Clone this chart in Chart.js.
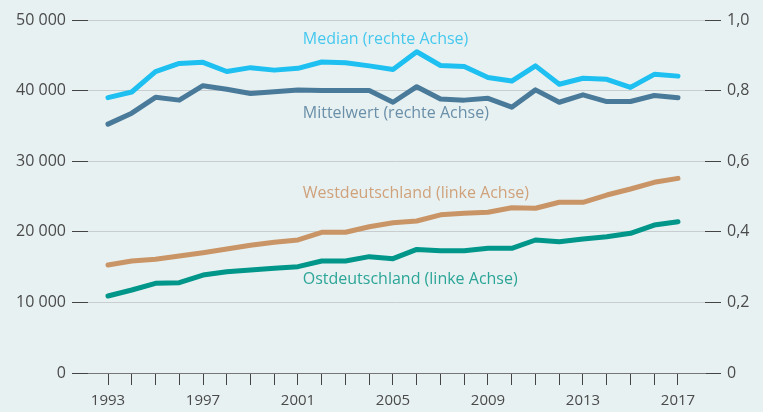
<!DOCTYPE html>
<html>
<head>
<meta charset="utf-8">
<script src="https://cdn.jsdelivr.net/npm/chart.js@4"></script>
<style>
  html, body { margin: 0; padding: 0; background: #e8f1f2; }
  #wrap { width: 763px; height: 412px; }
</style>
</head>
<body>
<div id="wrap"><canvas id="chart" width="763" height="412"></canvas></div>
<script>
const years = [1993,1994,1995,1996,1997,1998,1999,2000,2001,2002,2003,2004,2005,
  2006,2007,2008,2009,2010,2011,2012,2013,2014,2015,2016,2017];

// rechte Achse
const median = [0.78,0.796,0.854,0.877,0.88,0.854,0.865,0.858,0.863,0.881,0.879,0.87,0.86,
  0.91,0.871,0.868,0.837,0.827,0.87,0.818,0.835,0.832,0.809,0.846,0.841];
const mittelwert = [0.705,0.736,0.781,0.773,0.814,0.804,0.792,0.797,0.802,0.8,0.8,0.8,0.767,
  0.811,0.776,0.773,0.778,0.753,0.802,0.767,0.788,0.769,0.769,0.786,0.78];

// linke Achse
const west = [15300,15860,16100,16570,17040,17560,18090,18510,18840,19930,19930,20720,21290,
  21530,22400,22620,22760,23410,23330,24180,24180,25210,26060,27010,27570];
const ost = [10900,11760,12700,12790,13880,14350,14590,14830,15060,15860,15860,16480,16190,
  17500,17320,17320,17660,17660,18840,18600,18980,19310,19790,20960,21430];

const leftTicks = [0,10000,20000,30000,40000,50000];
const rightTicks = [0,0.2,0.4,0.6,0.8,1.0];

const seriesLabels = [
  { text: "Median (rechte Achse)", color: "#45c8ee", axis: "yR", value: 0.946 },
  { text: "Mittelwert (rechte Achse)", color: "#6a8fa8", axis: "yR", value: 0.734 },
  { text: "Westdeutschland (linke Achse)", color: "#cfa27c", axis: "yL", value: 25500 },
  { text: "Ostdeutschland (linke Achse)", color: "#2ba597", axis: "yL", value: 13300 }
];
const labelYear = 2001.2;

const toPoints = arr => arr.map((v, i) => ({ x: years[i], y: v }));
const fmtLeft = v => String(v).replace(/\B(?=(\d{3})+(?!\d))/g, " ");
const fmtRight = v => v === 0 ? "0" : v.toFixed(1).replace(".", ",");

const yFont = { family: "'Open Sans', sans-serif", size: 16 };
const xFont = { family: "'Open Sans', sans-serif", size: 15 };

const bgPlugin = {
  id: "bg",
  beforeDraw(chart) {
    const ctx = chart.ctx;
    ctx.save();
    ctx.fillStyle = "#e8f1f2";
    ctx.fillRect(0, 0, chart.width, chart.height);
    ctx.restore();
  }
};

const labelPlugin = {
  id: "seriesLabels",
  afterDatasetsDraw(chart) {
    const ctx = chart.ctx;
    const x = chart.scales.x.getPixelForValue(labelYear);
    ctx.save();
    ctx.font = "16px 'Open Sans', sans-serif";
    ctx.textAlign = "left";
    ctx.textBaseline = "middle";
    seriesLabels.forEach(l => {
      ctx.fillStyle = l.color;
      ctx.fillText(l.text, x, chart.scales[l.axis].getPixelForValue(l.value));
    });
    ctx.restore();
  }
};

const line = (data, color, axis) => ({
  data: toPoints(data),
  yAxisID: axis,
  borderColor: color,
  borderWidth: 5,
  pointRadius: 0,
  borderCapStyle: "round",
  borderJoinStyle: "round",
  tension: 0,
  fill: false
});

new Chart(document.getElementById("chart"), {
  type: "line",
  data: {
    datasets: [
      line(west, "#c99567", "yL"),
      line(ost, "#00968a", "yL"),
      line(mittelwert, "#4a7a9a", "yR"),
      line(median, "#1dc0f0", "yR")
    ]
  },
  options: {
    responsive: false,
    animation: false,
    layout: { padding: { top: 20, bottom: 0, left: 0, right: 0 } },
    plugins: { legend: { display: false }, tooltip: { enabled: false } },
    scales: {
      x: {
        type: "linear",
        min: 1993 - 20 / 23.75,
        max: 2017 + 27 / 23.75,
        afterBuildTicks: s => { s.ticks = years.map(v => ({ value: v })); },
        afterFit: s => { s.height = 39; },
        grid: { drawOnChartArea: false, tickLength: 12, tickColor: "#444", lineWidth: 1 },
        border: { display: true, color: "#777", width: 1 },
        ticks: {
          autoSkip: false, maxRotation: 0, padding: 7, color: "#4a4a4a", font: xFont,
          callback: v => (v - 1993) % 4 === 0 ? String(v) : ""
        }
      },
      yL: {
        position: "left",
        min: 0, max: 50000,
        afterBuildTicks: s => { s.ticks = leftTicks.map(v => ({ value: v })); },
        afterFit: s => { s.width = 88; },
        grid: { color: "#c8cdcf", tickColor: "#444", tickLength: 16, lineWidth: 1 },
        border: { display: false },
        ticks: { padding: 6, color: "#4a4a4a", font: yFont, callback: fmtLeft }
      },
      yR: {
        position: "right",
        min: 0, max: 1,
        afterBuildTicks: s => { s.ticks = rightTicks.map(v => ({ value: v })); },
        afterFit: s => { s.width = 58; },
        grid: { drawOnChartArea: false, tickColor: "#444", tickLength: 16, lineWidth: 1 },
        border: { display: false },
        ticks: { padding: 6, color: "#4a4a4a", font: yFont, callback: fmtRight }
      }
    }
  },
  plugins: [bgPlugin, labelPlugin]
});
</script>
</body>
</html>
